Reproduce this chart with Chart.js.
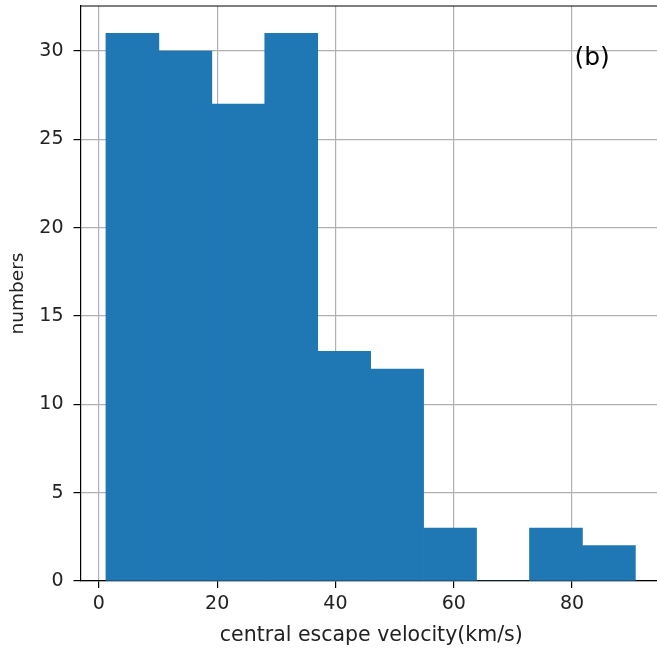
<!DOCTYPE html>
<html>
<head>
<meta charset="utf-8">
<script src="https://cdn.jsdelivr.net/npm/chart.js@4"></script>
<style>
  html, body { margin: 0; padding: 0; background: #fff; overflow: hidden; }
  #wrap { width: 665px; height: 650px; }
</style>
</head>
<body>
<div id="wrap"><canvas id="myChart" width="665" height="650"></canvas></div>
<script>
// histogram bins (centres) and counts
var binCenters = [5.675, 14.625, 23.575, 32.525, 41.475, 50.425, 59.375, 68.325, 77.275, 86.225];
var counts = [31, 30, 27, 31, 13, 12, 3, 0, 3, 2];
var xTicks = [0, 20, 40, 60, 80];
var yTicks = [0, 5, 10, 15, 20, 25, 30];

var points = [];
for (var i = 0; i < binCenters.length; i++) {
  points.push({ x: binCenters[i], y: counts[i] });
}

Chart.defaults.font.family = "DejaVu Sans";
Chart.defaults.color = "#222";

// top spine + panel label
var extras = {
  id: "extras",
  afterDraw: function (chart) {
    var ctx = chart.ctx;
    var a = chart.chartArea;
    ctx.save();
    ctx.strokeStyle = "#000";
    ctx.lineWidth = 1.2;
    ctx.beginPath();
    ctx.moveTo(a.left, a.top);
    ctx.lineTo(a.right, a.top);
    ctx.stroke();
    ctx.fillStyle = "#000";
    ctx.font = "25px 'DejaVu Sans'";
    ctx.textAlign = "left";
    ctx.textBaseline = "alphabetic";
    ctx.fillText("(b)", chart.scales.x.getPixelForValue(80.4), chart.scales.y.getPixelForValue(29.2));
    ctx.restore();
  },
};

new Chart("myChart", {
  type: "bar",
  data: {
    datasets: [
      {
        data: points,
        backgroundColor: "#1f77b4",
        borderWidth: 0,
        barPercentage: 1.0,
        categoryPercentage: 1.0,
      },
    ],
  },
  options: {
    responsive: false,
    animation: false,
    layout: {
      padding: { top: 6, right: 3, left: 0, bottom: 0 },
    },
    plugins: {
      legend: { display: false },
      tooltip: { enabled: false },
    },
    scales: {
      x: {
        type: "linear",
        min: -3.1,
        max: 95.2,
        offset: false,
        z: 1,
        afterBuildTicks: function (scale) {
          scale.ticks = xTicks.map(function (v) { return { value: v }; });
        },
        afterFit: function (scale) {
          scale.height = 69;
          scale.paddingLeft = 0;
          scale.paddingRight = 0;
        },
        border: { display: true, color: "#000", width: 1.2 },
        grid: {
          offset: false,
          color: "#b0b0b0",
          lineWidth: 1.2,
          tickColor: "#000",
          tickLength: 7,
        },
        ticks: {
          color: "#222",
          font: { size: 19 },
          padding: 5,
          maxRotation: 0,
        },
        title: {
          display: true,
          text: "central escape velocity(km/s)",
          color: "#222",
          font: { size: 20.5 },
          padding: { top: 0, bottom: 2 },
        },
      },
      y: {
        min: 0,
        max: 32.55,
        z: 1,
        afterBuildTicks: function (scale) {
          scale.ticks = yTicks.map(function (v) { return { value: v }; });
        },
        afterFit: function (scale) {
          scale.width = 80.5;
          scale.paddingTop = 0;
          scale.paddingBottom = 0;
        },
        border: { display: true, color: "#000", width: 1.2 },
        grid: {
          color: "#b0b0b0",
          lineWidth: 1.2,
          tickColor: "#000",
          tickLength: 7,
        },
        ticks: {
          color: "#222",
          font: { size: 19 },
          padding: 10,
        },
        title: {
          display: true,
          text: "numbers",
          color: "#222",
          font: { size: 18.5 },
          padding: { top: 7, bottom: 0 },
        },
      },
    },
  },
  plugins: [extras],
});
</script>
</body>
</html>
